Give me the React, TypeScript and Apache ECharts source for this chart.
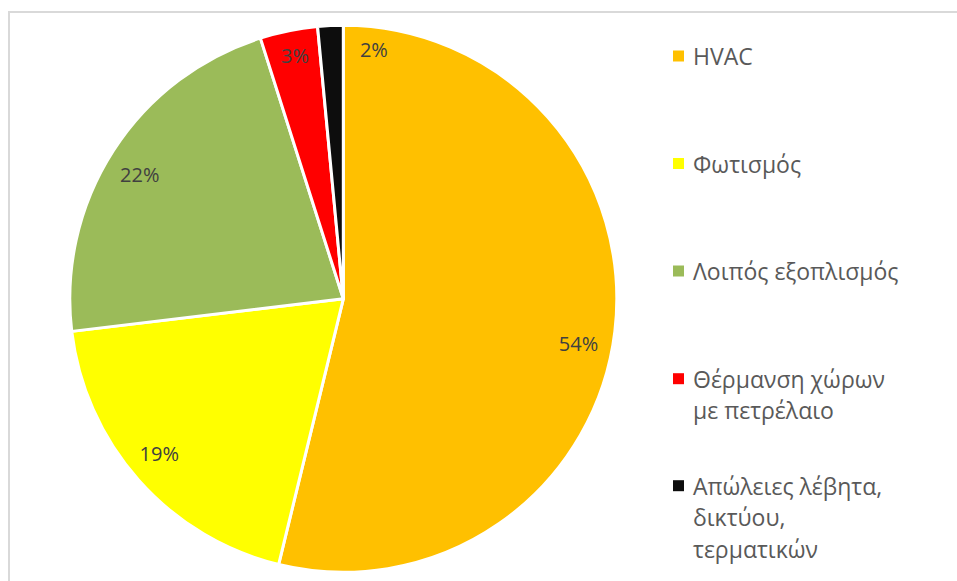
import React, { useEffect, useRef } from "react";
import * as echarts from "echarts";

const categories = [
  "HVAC",
  "Φωτισμός",
  "Λοιπός εξοπλισμός",
  "Θέρμανση χώρων με πετρέλαιο",
  "Απώλειες λέβητα, δικτύου, τερματικών",
];
const legendLines = [
  ["HVAC"],
  ["Φωτισμός"],
  ["Λοιπός εξοπλισμός"],
  ["Θέρμανση χώρων", "με πετρέλαιο"],
  ["Απώλειες λέβητα,", "δικτύου,", "τερματικών"],
];
const shares = [53.8, 19.3, 22.0, 3.4, 1.5];
const colors = ["#FFC000", "#FFFF00", "#9BBB59", "#FF0000", "#0D0D0D"];

const FONT = "'Open Sans', 'Noto Sans', sans-serif";
const LINE_H = 31.5;
const legendCenters = [56, 163.5, 271, 378.7, 485.7];
const labelShift: Record<number, { dx: number; dy: number }> = {
  0: { dx: -5, dy: 16 },
  1: { dx: -3, dy: -6 },
  2: { dx: 0, dy: 7 },
  3: { dx: 0, dy: -6 },
  4: { dx: 42, dy: -8 },
};

export default function App() {
  const ref = useRef<HTMLDivElement>(null);
  useEffect(() => {
    if (!ref.current) return;
    const chart = echarts.init(ref.current, null, { renderer: "svg" });
    const data = categories.map((name, i) => ({
      name,
      value: shares[i],
      itemStyle: { color: colors[i] },
    }));
    chart.setOption({
      animation: false,
      backgroundColor: "#ffffff",
      graphic: [
        {
          type: "rect",
          shape: { x: 9, y: 12, width: 2000, height: 2000 },
          style: { fill: "none", stroke: "#d9d9d9", lineWidth: 2 },
          silent: true,
        },
      ],
      legend: categories.map((name, i) => {
        const n = legendLines[i].length;
        const padded = Array(n - 1).fill("").concat(legendLines[i]);
        return {
          orient: "vertical",
          left: 673,
          top: legendCenters[i] - ((2 * n - 1) * LINE_H) / 2,
          padding: 0,
          itemWidth: 11,
          itemHeight: 11,
          icon: "rect",
          selectedMode: false,
          data: [{ name, itemStyle: { color: colors[i], borderWidth: 0 } }],
          formatter: () => padded.join("\n"),
          textStyle: {
            fontFamily: FONT,
            fontSize: 23,
            color: "#595959",
            lineHeight: LINE_H,
            padding: [0, 0, 0, 4],
          },
        };
      }),
      series: [
        {
          type: "pie",
          center: [343.3, 298.8],
          radius: [0, 273.5],
          startAngle: 90,
          clockwise: true,
          data,
          label: { show: false },
          labelLine: { show: false },
          itemStyle: { borderColor: "#ffffff", borderWidth: 3 },
          emphasis: { disabled: true },
          silent: true,
        },
        {
          type: "pie",
          center: [343.3, 298.8],
          radius: [205, 273],
          startAngle: 90,
          clockwise: true,
          avoidLabelOverlap: false,
          data: categories.map((name, i) => ({
            name,
            value: shares[i],
            itemStyle: { color: "rgba(0,0,0,0)" },
          })),
          itemStyle: { borderWidth: 0 },
          label: {
            show: true,
            position: "inside",
            formatter: (p: any) => Math.round(p.value) + "%",
            fontFamily: FONT,
            fontSize: 20,
            color: "#404040",
          },
          labelLine: { show: false },
          labelLayout: (p: any) => labelShift[p.dataIndex] || {},
          emphasis: { disabled: true },
          silent: true,
        },
      ],
    });
    return () => chart.dispose();
  }, []);
  return (
    <div
      ref={ref}
      style={{ position: "fixed", left: 0, top: 0, width: 957, height: 581 }}
    />
  );
}
